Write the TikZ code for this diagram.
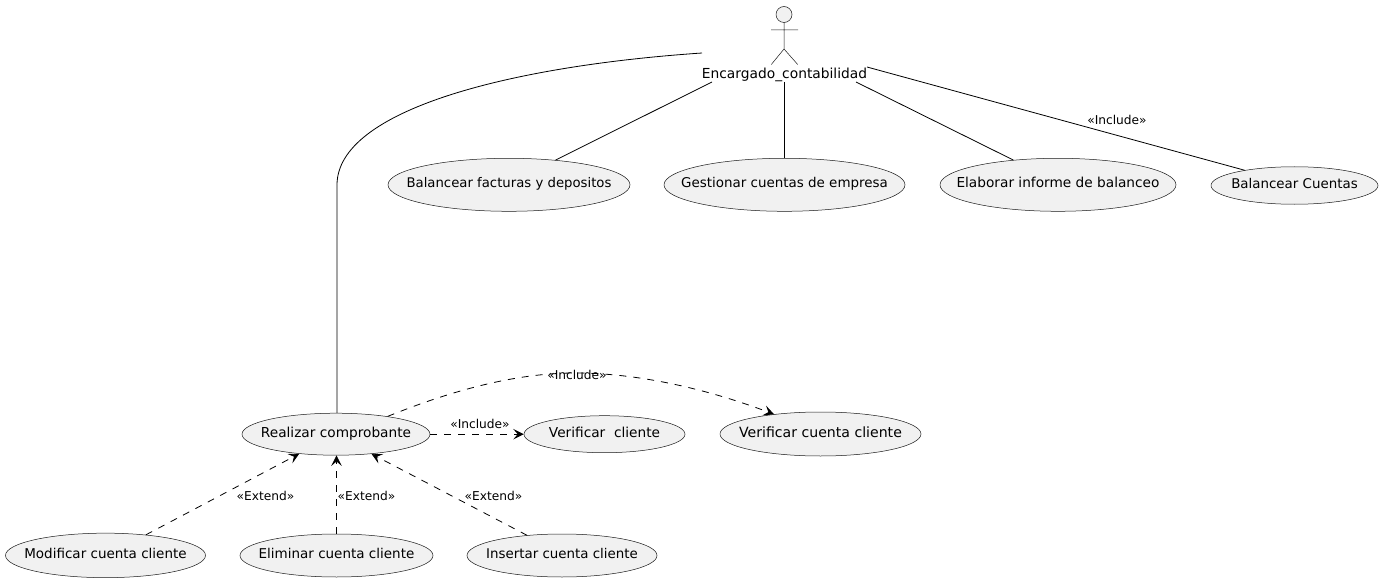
\documentclass[tikz,border=0pt]{standalone}
\usepackage{fontspec}
\setmainfont{DejaVu Sans}
\usetikzlibrary{shapes.geometric,arrows.meta}
\definecolor{ucfill}{HTML}{F1F1F1}
\definecolor{ucline}{HTML}{181818}
\newcommand{\uctext}[2][13.5]{\hbox to 0pt{\hss\raisebox{-3.2pt}[0pt][0pt]{\fontsize{#1}{15}\selectfont #2}\hss}}
\tikzset{
  usecase/.style={ellipse,draw=ucline,fill=ucfill,line width=0.5pt,inner sep=0pt,text=black},
  edgelabel/.style={inner sep=0pt,font=\fontsize{12.2}{13}\selectfont,text=black},
  assoc/.style={draw=black,line width=0.8pt},
  dep/.style={draw=black,line width=0.8pt,dash pattern=on 7pt off 7pt,-{Stealth[length=10.5pt,width=10.5pt,inset=4.5pt]}},
  actorline/.style={draw=ucline,line width=0.5pt}
}
\begin{document}
\begin{tikzpicture}[x=1pt,y=-1pt]
\useasboundingbox (0,0) rectangle (1382,583);
% actor
\node[circle,draw=ucline,fill=ucfill,line width=0.5pt,minimum size=16pt,inner sep=0pt] (head) at (784,14.5) {};
\coordinate (hip) at (784,49);
\coordinate (armL) at (771,30);
\coordinate (armR) at (798,30);
\coordinate (legL) at (771.3,64.5);
\coordinate (legR) at (797.7,64.5);
\draw[actorline] (head.south) -- (hip) -- (legL) (hip) -- (legR) (armL) -- (armR);
\node[inner sep=0pt,font=\fontsize{13.8}{15}\selectfont] (actor) at (784.5,75) {Encargado\_contabilidad};
\coordinate (a1) at (702,53);
\coordinate (a2) at (712,82);
\coordinate (a3) at (784.5,82);
\coordinate (a4) at (856,82);
\coordinate (a5) at (867,67);
\coordinate (bend) at (337,185);
% use cases
\node[usecase,minimum width=242pt,minimum height=53pt] (fact) at (509,184.8) {\uctext[13.25]{Balancear facturas y depositos}};
\node[usecase,minimum width=241pt,minimum height=53pt] (gest) at (784.5,184.8) {\uctext[13.45]{Gestionar cuentas de empresa}};
\node[usecase,minimum width=236pt,minimum height=53pt] (elab) at (1058,184.8) {\uctext[13.7]{Elaborar informe de balanceo}};
\node[usecase,minimum width=167pt,minimum height=37.5pt] (bal) at (1294.5,185.5) {\uctext[13.4]{Balancear Cuentas}};
\node[usecase,minimum width=188pt,minimum height=42pt] (real) at (336,434.2) {\uctext[13.7]{Realizar comprobante}};
\node[usecase,minimum width=161pt,minimum height=37pt] (veri) at (604.5,434.2) {\uctext[13.7]{Verificar\ \ cliente}};
\node[usecase,minimum width=201pt,minimum height=44pt] (vcta) at (820.5,434) {\uctext[14.1]{Verificar cuenta cliente}};
\node[usecase,minimum width=200pt,minimum height=44.5pt] (modi) at (105.5,555.4) {\uctext{Modificar cuenta cliente}};
\node[usecase,minimum width=193pt,minimum height=43pt] (elim) at (336.5,555.5) {\uctext{Eliminar cuenta cliente}};
\node[usecase,minimum width=190pt,minimum height=43pt] (inse) at (562,555.5) {\uctext[13.4]{Insertar cuenta cliente}};
% associations
\draw[assoc] (a1) .. controls (510,66) and (337,110) .. (bend) -- (real.north -| bend);
\draw[assoc] (a2) -- (fact.28);
\draw[assoc] (a3) -- (gest.north);
\draw[assoc] (a4) -- (elab.151.4);
\draw[assoc] (a5) -- (bal.163);
% dependencies
\draw[dep] (real.19.2) .. controls (470,383) and (530,373) .. (575,373) .. controls (640,373) and (710,390) .. (vcta.157.8);
\draw[dep] (real.east) -- (veri.west);
\draw[dep] (modi.27.3) -- (real.208.3);
\draw[dep] (elim.north) -- (real.south -| elim.north);
\draw[dep] (inse.150.7) -- (real.331.7);
% labels
\node[edgelabel] (l1) at (1117,120) {«Include»};
\node[edgelabel] (l2) at (577,374.5) {«Include»};
\node[edgelabel] (l3) at (480,424) {«Include»};
\node[edgelabel] (l4) at (265.5,496) {«Extend»};
\node[edgelabel] (l5) at (366.5,496) {«Extend»};
\node[edgelabel] (l6) at (493.5,496) {«Extend»};
\end{tikzpicture}
\end{document}
